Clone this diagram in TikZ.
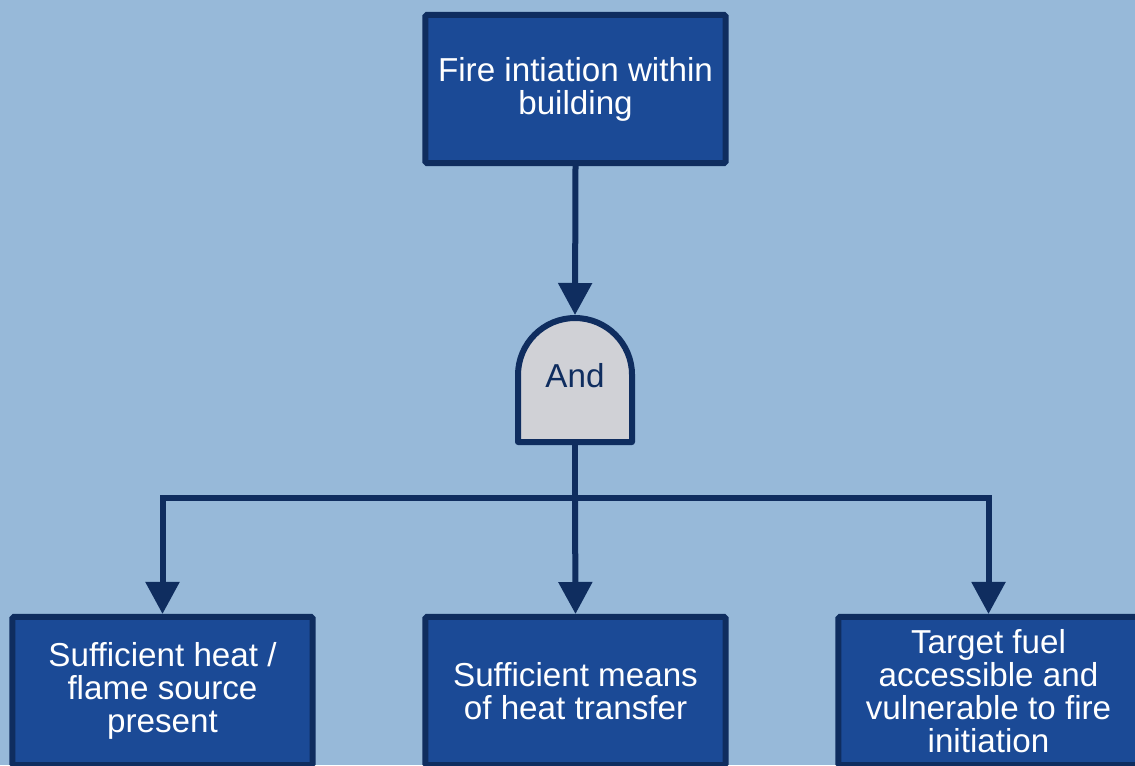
\documentclass[tikz,border=0pt]{standalone}
\usepackage{fontspec}
\setmainfont{Liberation Sans}
\usetikzlibrary{arrows.meta}
\definecolor{bgblue}{HTML}{97B9D9}
\definecolor{boxblue}{HTML}{1B4A96}
\definecolor{navy}{HTML}{0F2D5F}
\definecolor{gategray}{HTML}{D0D1D6}

\tikzset{
  EventBox/.style = {draw=navy, fill=boxblue, line width=0.15cm, rounded corners=1pt,
    minimum width=7.5cm, minimum height=3.7cm, inner sep=0pt,
    text=white, align=center, font=\fontsize{23.6}{23.5}\selectfont},
  Link/.style = {draw=navy, line width=0.15cm},
  LinkArrow/.style = {Link, -{Triangle[length=0.8cm, width=0.82cm]}}
}

\begin{document}
\begin{tikzpicture}[x=0.025cm, y=-0.025cm]

    \fill[bgblue] (0,0) rectangle (1135,765);
    \useasboundingbox (0,0) rectangle (1135,765);

    \node[EventBox] (fire) at (575.5,89) {Fire intiation within\\building};
    \node[EventBox] (heat) at (162.5,691) {Sufficient heat /\\flame source\\present};
    \node[EventBox] (means) at (575.5,691) {Sufficient means\\of heat transfer};
    \node[EventBox] (fuel) at (988.5,691) {Target fuel\\accessible and\\vulnerable to fire\\initiation};

    % and gate
    \draw[Link, fill=gategray, line join=round]
      (518,442) -- (518,375) arc[start angle=180, end angle=0, radius=1.425cm] -- (632,442) -- cycle;
    \node[text=navy, font=\fontsize{23.6}{23.5}\selectfont] (gate) at (575,376) {And};
    \coordinate (gatetop) at (575,315);
    \coordinate (gatebot) at (575,442);
    \coordinate (split) at (575,498);

    \draw[LinkArrow] (fire.south) -- (gatetop);
    \draw[Link] (gatebot) -- (split);
    \draw[LinkArrow] (split) -| (heat.north);
    \draw[LinkArrow] (split) -- (means.north);
    \draw[LinkArrow] (split) -| (fuel.north);

\end{tikzpicture}
\end{document}
